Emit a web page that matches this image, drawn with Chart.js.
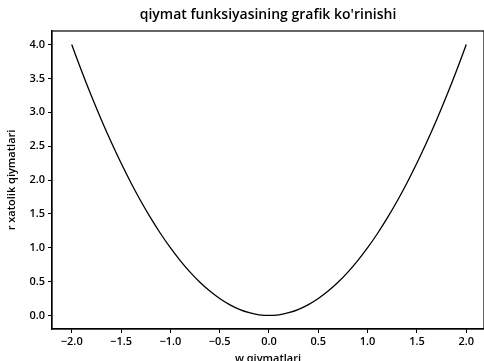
<!DOCTYPE html>
<html>
<head>
<meta charset="utf-8">
<script src="https://cdn.jsdelivr.net/npm/chart.js@4/dist/chart.umd.min.js"></script>
<style>
  html, body { margin: 0; padding: 0; background: #fff; }
  #wrap { width: 484px; height: 361px; }
</style>
</head>
<body>
<div id="wrap"><canvas id="lossChart"></canvas></div>
<script>
// w qiymatlari va ularga mos r xatolik qiymatlari
const wValues = [-2.0, -1.9, -1.8, -1.7, -1.6, -1.5, -1.4, -1.3, -1.2, -1.1,
                 -1.0, -0.9, -0.8, -0.7, -0.6, -0.5, -0.4, -0.3, -0.2, -0.1,
                  0.0,  0.1,  0.2,  0.3,  0.4,  0.5,  0.6,  0.7,  0.8,  0.9,
                  1.0,  1.1,  1.2,  1.3,  1.4,  1.5,  1.6,  1.7,  1.8,  1.9, 2.0];
const rValues = [4.0, 3.61, 3.24, 2.89, 2.56, 2.25, 1.96, 1.69, 1.44, 1.21,
                 1.0, 0.81, 0.64, 0.49, 0.36, 0.25, 0.16, 0.09, 0.04, 0.01,
                 0.0, 0.01, 0.04, 0.09, 0.16, 0.25, 0.36, 0.49, 0.64, 0.81,
                 1.0, 1.21, 1.44, 1.69, 1.96, 2.25, 2.56, 2.89, 3.24, 3.61, 4.0];
const xTicks = [-2.0, -1.5, -1.0, -0.5, 0.0, 0.5, 1.0, 1.5, 2.0];
const yTicks = [0.0, 0.5, 1.0, 1.5, 2.0, 2.5, 3.0, 3.5, 4.0];

const FONT = '"Open Sans", "DejaVu Sans", sans-serif';
const fmt = v => (v < 0 ? '\u2212' : '') + Math.abs(v).toFixed(1);

// ramka va sarlavha
const frame = {
  id: 'frame',
  afterDraw(chart) {
    const { ctx, chartArea: a } = chart;
    ctx.save();
    ctx.strokeStyle = '#000';
    ctx.lineWidth = 1.2;
    ctx.strokeRect(a.left, a.top, a.right - a.left, a.bottom - a.top);
    ctx.fillStyle = '#000';
    ctx.font = '600 14px ' + FONT;
    ctx.textAlign = 'center';
    ctx.textBaseline = 'middle';
    ctx.fillText("qiymat funksiyasining grafik ko'rinishi", (a.left + a.right) / 2, 15);
    ctx.restore();
  }
};

const points = wValues.map((w, i) => ({ x: w, y: rValues[i] }));

new Chart(document.getElementById('lossChart'), {
  type: 'scatter',
  data: {
    datasets: [{
      data: points,
      showLine: true,
      borderColor: '#000',
      borderWidth: 1.3,
      pointRadius: 0,
      tension: 0.4,
      cubicInterpolationMode: 'monotone'
    }]
  },
  options: {
    responsive: true,
    maintainAspectRatio: false,
    animation: false,
    layout: { padding: { top: 31, right: 0, left: 0, bottom: 0 } },
    plugins: { legend: { display: false }, tooltip: { enabled: false } },
    scales: {
      x: {
        min: -2.2,
        max: 2.18,
        afterBuildTicks: s => { s.ticks = xTicks.map(v => ({ value: v })); },
        afterFit: s => { s.height = 32; },
        grid: { drawOnChartArea: false, drawTicks: true, tickLength: 4, color: '#000' },
        border: { color: '#000', width: 1.2 },
        ticks: {
          color: '#000', padding: 2, maxRotation: 0,
          font: { family: FONT, size: 11, weight: '600' },
          callback: v => fmt(v)
        },
        title: {
          display: true, text: 'w qiymatlari', color: '#000',
          font: { family: FONT, size: 11, weight: '600' },
          padding: { top: 0, bottom: -4 }
        }
      },
      y: {
        min: -0.2,
        max: 4.2,
        afterBuildTicks: s => { s.ticks = yTicks.map(v => ({ value: v })); },
        afterFit: s => { s.width = 52; },
        grid: { drawOnChartArea: false, drawTicks: true, tickLength: 4, color: '#000' },
        border: { color: '#000', width: 1.2 },
        ticks: {
          color: '#000', padding: 3,
          font: { family: FONT, size: 11, weight: '600' },
          callback: v => fmt(v)
        },
        title: {
          display: true, text: 'r xatolik qiymatlari', color: '#000',
          font: { family: FONT, size: 11, weight: '600' },
          padding: { top: 5, bottom: 0 }
        }
      }
    }
  },
  plugins: [frame]
});
</script>
</body>
</html>
